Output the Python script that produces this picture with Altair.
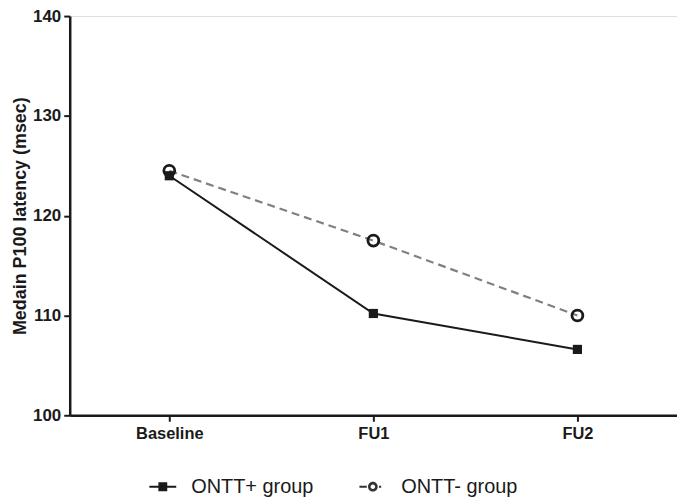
import altair as alt
import pandas as pd

timepoints = ["Baseline", "FU1", "FU2"]
groups = ["ONTT+ group", "ONTT- group"]
ontt_pos = [124.0, 110.2, 106.6]
ontt_neg = [124.5, 117.5, 110.0]

rows = []
for t, v in zip(timepoints, ontt_pos):
    rows.append({"time": t, "value": v, "group": groups[0]})
for t, v in zip(timepoints, ontt_neg):
    rows.append({"time": t, "value": v, "group": groups[1]})
df = pd.DataFrame(rows)

FONT = "Liberation Sans"

x_enc = alt.X(
    "time:N",
    sort=timepoints,
    scale=alt.Scale(type="point", domain=timepoints, padding=0.488),
    axis=alt.Axis(
        title=None, labelAngle=0, labelFont=FONT, labelFontSize=16.5,
        labelFontWeight="bold", labelColor="#1a1a1a", labelPadding=4,
        domainColor="#1a1a1a", domainWidth=2.5, tickColor="#1a1a1a",
        tickWidth=2, tickSize=6, grid=False,
    ),
)
y_enc = alt.Y(
    "value:Q",
    scale=alt.Scale(domain=[100, 140], nice=False, zero=False),
    axis=alt.Axis(
        title="Medain P100 latency (msec)", values=[100, 110, 120, 130, 140],
        titleFont=FONT, titleFontSize=18, titleFontWeight="bold", titleColor="#1a1a1a",
        titlePadding=3,
        labelFont=FONT, labelFontSize=17, labelFontWeight="bold", labelColor="#1a1a1a",
        labelPadding=3, domainColor="#1a1a1a", domainWidth=2.5,
        tickColor="#1a1a1a", tickWidth=2, tickSize=6, grid=False,
    ),
)

base = alt.Chart(df)

pos = base.transform_filter(alt.datum.group == groups[0])
neg = base.transform_filter(alt.datum.group == groups[1])

line_pos = pos.mark_line(color="#1a1a1a", strokeWidth=2).encode(x=x_enc, y=y_enc)
line_neg = neg.mark_line(color="#808080", strokeWidth=2.2, strokeDash=[8, 5]).encode(x=x_enc, y=y_enc)
pt_pos = pos.mark_point(shape="square", filled=True, color="#1a1a1a", size=85, opacity=1).encode(x=x_enc, y=y_enc)
pt_neg = neg.mark_point(shape="circle", filled=False, color="#1a1a1a", strokeWidth=2.8, size=120, opacity=1).encode(x=x_enc, y=y_enc)

path_pos = "M-1,-0.08H1V0.08H-1Z M-0.33,-0.33H0.33V0.33H-0.33Z"
path_neg = ("M-1,-0.07H-0.45V0.07H-1Z M0.45,-0.07H0.62V0.07H0.45Z "
            "M0.36,0 A0.36,0.36 0 1,0 -0.36,0 A0.36,0.36 0 1,0 0.36,0 Z "
            "M0.17,0 A0.17,0.17 0 1,1 -0.17,0 A0.17,0.17 0 1,1 0.17,0 Z")

legend = alt.Legend(
    title=None, orient="none", direction="horizontal", columns=2,
    legendX=80, legendY=459, symbolSize=729, symbolStrokeWidth=0,
    labelFont=FONT, labelFontSize=20, labelColor="#1a1a1a", labelOffset=15,
    columnPadding=46, padding=0,
)

legend_layer = base.transform_filter("false").mark_point(filled=True, opacity=1).encode(
    x=x_enc, y=y_enc,
    shape=alt.Shape("group:N", scale=alt.Scale(domain=groups, range=[path_pos, path_neg]), legend=legend),
    color=alt.Color("group:N", scale=alt.Scale(domain=groups, range=["#1a1a1a", "#333333"]), legend=legend),
)

chart = alt.layer(line_neg, line_pos, pt_neg, pt_pos, legend_layer).properties(
    width=610, height=401,
    padding={"left": 62, "top": 7, "right": 0, "bottom": 85},
    autosize="none",
).configure_view(stroke=None).configure(background="white")

chart.save("out.html", embed_options={"renderer": "svg", "actions": False})
